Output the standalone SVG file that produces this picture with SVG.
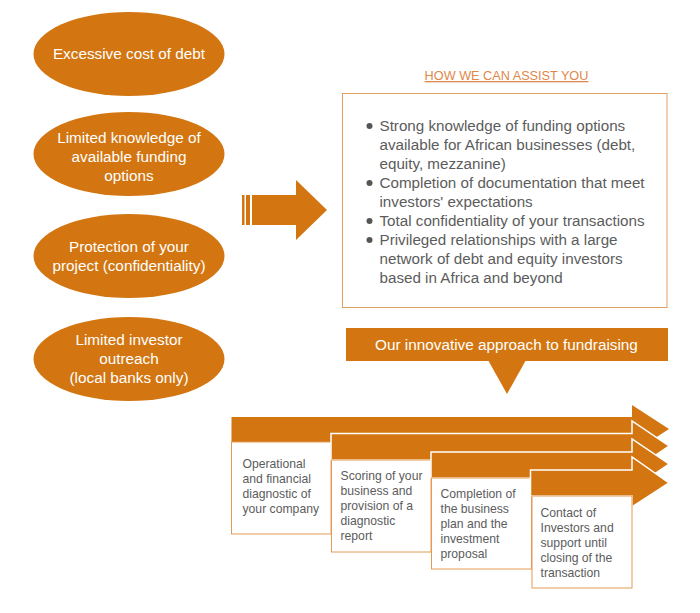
<svg xmlns="http://www.w3.org/2000/svg" width="700" height="613" viewBox="0 0 700 613">
<style>
text{font-family:"Liberation Sans",Arial,sans-serif}
.o{fill:#d37611}
.w{fill:#fff;font-size:15.3px;text-anchor:middle}
.b{fill:#5c5c5c;font-size:15.2px}
.s{fill:#5c5c5c;font-size:12.2px}
.f{fill:#fff;stroke:#e39a55;stroke-width:1}
.a{fill:#d37611;stroke:#fff;stroke-width:1.5}
</style>
<rect width="700" height="613" fill="#fff"/>
<g id="node-cost"><ellipse class="o" cx="129" cy="54" rx="95.500" ry="42"/><text class="w" x="129" y="59">Excessive cost of debt</text></g>
<g id="node-knowledge"><ellipse class="o" cx="129" cy="154" rx="95.500" ry="42"/><text class="w" x="129" y="143">Limited knowledge of</text><text class="w" x="129" y="162">available funding</text><text class="w" x="129" y="181">options</text></g>
<g id="node-protection"><ellipse class="o" cx="129" cy="256" rx="95.500" ry="42"/><text class="w" x="129" y="252">Protection of your</text><text class="w" x="129" y="271">project (confidentiality)</text></g>
<g id="node-outreach"><ellipse class="o" cx="129" cy="359" rx="95.500" ry="42"/><text class="w" x="129" y="345">Limited investor</text><text class="w" x="129" y="364">outreach</text><text class="w" x="129" y="383">(local banks only)</text></g>
<g id="connectors">
<path class="o" d="M252 195H296V180L327 210L296 240V225H252Z"/>
<rect class="o" x="242" y="195" width="2.500" height="30"/>
<rect class="o" x="246" y="195" width="4" height="30"/>
<path class="o" d="M488 360H526L507 394Z"/>
</g>
<g id="node-assist">
<text x="506.500" y="80" text-anchor="middle" font-size="12.700" fill="#e0874a" text-decoration="underline">HOW WE CAN ASSIST YOU</text>
<rect x="342.500" y="93.500" width="324.500" height="214" fill="#fff" stroke="#e0a060"/>
<g fill="#555"><circle cx="369.500" cy="126" r="3"/><circle cx="369.500" cy="183" r="3"/><circle cx="369.500" cy="221" r="3"/><circle cx="369.500" cy="240" r="3"/></g>
<text class="b" x="379.500" y="131">Strong knowledge of funding options</text>
<text class="b" x="379.500" y="150">available for African businesses (debt,</text>
<text class="b" x="379.500" y="169">equity, mezzanine)</text>
<text class="b" x="379.500" y="188">Completion of documentation that meet</text>
<text class="b" x="379.500" y="207">investors' expectations</text>
<text class="b" x="379.500" y="226">Total confidentiality of your transactions</text>
<text class="b" x="379.500" y="245">Privileged relationships with a large</text>
<text class="b" x="379.500" y="264">network of debt and equity investors</text>
<text class="b" x="379.500" y="283">based in Africa and beyond</text>
</g>
<g id="node-banner"><rect class="o" x="346" y="328" width="322" height="33"/><text class="w" x="506.500" y="350">Our innovative approach to fundraising</text></g>
<g id="node-step1">
<path class="o" d="M231.500 417H632V405L669 429L632 453V442H231.500Z"/>
<rect class="f" x="231.500" y="442" width="99.500" height="92"/>
<text class="s" x="242.500" y="468">Operational</text><text class="s" x="242.500" y="483">and financial</text><text class="s" x="242.500" y="498">diagnostic of</text><text class="s" x="242.500" y="513">your company</text>
</g>
<g id="node-step2">
<path class="a" d="M331 433.500H632V421L669 446L632 471V460H331Z"/>
<rect class="f" x="331.500" y="460" width="99.500" height="92"/>
<text class="s" x="340.500" y="480">Scoring of your</text><text class="s" x="340.500" y="495">business and</text><text class="s" x="340.500" y="510">provision of a</text><text class="s" x="340.500" y="525">diagnostic</text><text class="s" x="340.500" y="540">report</text>
</g>
<g id="node-step3">
<path class="a" d="M431 452H632V439L669 464L632 489V478H431Z"/>
<rect class="f" x="431.500" y="478" width="100" height="91"/>
<text class="s" x="440.500" y="498">Completion of</text><text class="s" x="440.500" y="513">the business</text><text class="s" x="440.500" y="528">plan and the</text><text class="s" x="440.500" y="543">investment</text><text class="s" x="440.500" y="558">proposal</text>
</g>
<g id="node-step4">
<path class="a" d="M530.500 470H632V457L669 483L632 507V496H530.500Z"/>
<rect class="f" x="532" y="496" width="100" height="92"/>
<text class="s" x="540.500" y="517">Contact of</text><text class="s" x="540.500" y="532">Investors and</text><text class="s" x="540.500" y="547">support until</text><text class="s" x="540.500" y="562">closing of the</text><text class="s" x="540.500" y="577">transaction</text>
</g>
</svg>
